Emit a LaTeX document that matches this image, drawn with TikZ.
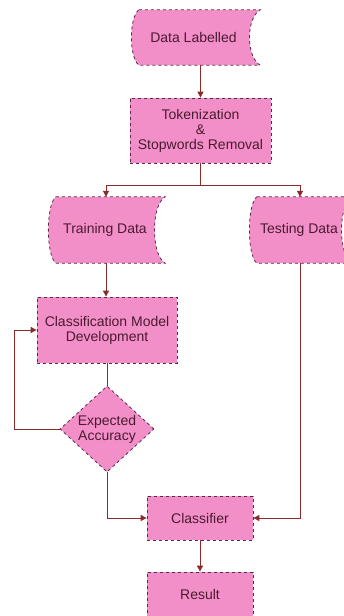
\documentclass[tikz,border=0pt]{standalone}
\usepackage{fontspec}
\setmainfont{Liberation Sans}
\usetikzlibrary{arrows.meta,shapes.geometric,calc}
\pgfdeclarelayer{shapes}
\pgfsetlayers{shapes,main}
\definecolor{pinkfill}{HTML}{F38FC8}
\definecolor{bordercol}{HTML}{5A2A45}
\definecolor{textcol}{HTML}{4A1A30}
\definecolor{linecol}{HTML}{8C2A2A}
\tikzset{
  lbl/.style={font=\fontsize{14}{15}\selectfont, text=textcol, align=center, inner sep=0pt},
  boxnode/.style={lbl, rectangle, draw=bordercol, dashed, fill=pinkfill, line width=0.8pt},
  storednode/.style={lbl, rectangle},
  storedpath/.style={draw=bordercol, dashed, fill=pinkfill, line width=0.8pt},
  dianode/.style={lbl, diamond, aspect=1.1, draw=bordercol, dashed, fill=pinkfill, line width=0.8pt},
  conn/.style={draw=linecol, line width=1pt},
  arr/.style={conn, -{Triangle[length=6pt,width=6pt]}}
}
% #1 node, #2 left bulge, #3 right bulge
\newcommand{\storedshape}[3]{%
  \path[storedpath] ($(#1.north west)+(#2,0)$) -- (#1.north east)
    .. controls ($(#1.north east)+(-1.1*#3,8)$) and ($(#1.south east)+(-1.1*#3,-8)$) .. (#1.south east)
    -- ($(#1.south west)+(#2,0)$)
    .. controls ($(#1.south west)+(-0.1*#2,-8)$) and ($(#1.north west)+(-0.1*#2,8)$) .. cycle;}
\begin{document}
\begin{tikzpicture}[x=1pt,y=-1pt]
\useasboundingbox (0,0) rectangle (344,616);
% nodes
\node[storednode, minimum width=130pt, minimum height=55pt] (DL) at (195,37.5) {\hspace*{-3pt}Data Labelled};
\node[boxnode, minimum width=141pt, minimum height=65pt] (Tok) at (200.5,130.5) {Tokenization\\\&\\Stopwords Removal};
\node[storednode, minimum width=118pt, minimum height=66pt] (TrD) at (106,230) {\hspace*{-2pt}Training Data};
\node[storednode, minimum width=104pt, minimum height=66pt] (TeD) at (300,230) {\hspace*{-2pt}Testing Data};
\node[boxnode, minimum width=140pt, minimum height=66pt] (CMD) at (107,330) {Classification Model\\Development};
\node[dianode, minimum width=94pt, minimum height=86pt] (Dia) at (107,429) {Expected\\Accuracy};
\node[boxnode, minimum width=106pt, minimum height=44pt] (Cls) at (200,518) {Classifier};
\node[boxnode, minimum width=106pt, minimum height=44pt] (Res) at (200,594) {Result};
\begin{pgfonlayer}{shapes}
\fill[white] (0,0) rectangle (344,616);
\storedshape{DL}{9}{13}
\storedshape{TrD}{9}{13}
\storedshape{TeD}{9}{13}
\end{pgfonlayer}
% connectors
\coordinate (split) at (200.5,185);
\coordinate (loopx) at (14,0);
\draw[arr] (Tok.north |- DL.south) -- (Tok.north);
\draw[conn] (Tok.south) -- (split);
\draw[arr] (split) -| (TrD.north);
\draw[arr] (split) -| (TeD.north);
\draw[arr] (TrD.south) -- (TrD.south |- CMD.north);
\draw[conn] (CMD.south) -- (Dia.north);
\draw[arr] (Dia.west) -- (Dia.west -| loopx) |- (CMD.west);
\draw[arr] (Dia.south) |- (Cls.west);
\draw[arr] (TeD.south) |- (Cls.east);
\draw[arr] (Cls.south) -- (Res.north);
\end{tikzpicture}
\end{document}
